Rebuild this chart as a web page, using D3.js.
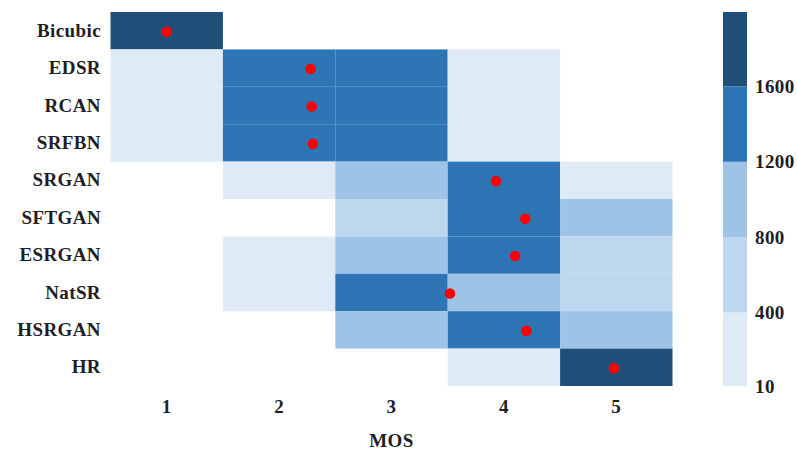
<!DOCTYPE html>
<html>
<head>
<meta charset="utf-8">
<script src="https://cdn.jsdelivr.net/npm/d3@7"></script>
<style>
  html, body { margin: 0; padding: 0; background: #fff; }
  svg text { font-family: "Liberation Serif", "Times New Roman", serif; font-weight: bold; fill: #1e1e24; letter-spacing: 0.4px; }
</style>
</head>
<body>
<svg id="chart" width="797" height="451"></svg>
<script>
// ---- data ----
const methods = ["Bicubic", "EDSR", "RCAN", "SRFBN", "SRGAN", "SFTGAN", "ESRGAN", "NatSR", "HSRGAN", "HR"];
const mosLevels = [1, 2, 3, 4, 5];
// vote counts per method for MOS 1..5
const countsBicubic = [1980, 0, 0, 0, 0];
const countsEDSR    = [330, 1560, 1250, 150, 0];
const countsRCAN    = [310, 1540, 1280, 170, 0];
const countsSRFBN   = [300, 1530, 1290, 180, 0];
const countsSRGAN   = [0, 220, 900, 1400, 280];
const countsSFTGAN  = [0, 0, 650, 1450, 850];
const countsESRGAN  = [0, 120, 820, 1420, 700];
const countsNatSR   = [0, 250, 1300, 1000, 500];
const countsHSRGAN  = [0, 0, 850, 1450, 900];
const countsHR      = [0, 0, 0, 250, 1900];
// mean opinion score per method (red dots)
const meanMOS = [1.0, 2.28, 2.29, 2.30, 3.93, 4.19, 4.10, 3.52, 4.20, 4.98];
// colour bins
const binEdges = [10, 400, 800, 1200, 1600];
const binColors = ["#deebf7", "#bdd7ee", "#9dc3e6", "#2e75b6", "#1f4e79"];
const legendTicks = [10, 400, 800, 1200, 1600];
const legendMax = 1995;

const countRows = [countsBicubic, countsEDSR, countsRCAN, countsSRFBN, countsSRGAN,
                   countsSFTGAN, countsESRGAN, countsNatSR, countsHSRGAN, countsHR];

// ---- layout ----
const svg = d3.select("#chart");
const gx0 = 110.5, gx1 = 672.5, gy0 = 12, gy1 = 386;
const fs = 19;

const x = d3.scaleBand().domain(mosLevels).range([gx0, gx1]).padding(0);
const y = d3.scaleBand().domain(methods).range([gy0, gy1]).padding(0);
const xMos = d3.scaleLinear().domain([0.5, 5.5]).range([gx0, gx1]);
const color = d3.scaleThreshold().domain(binEdges).range(["none"].concat(binColors));

const cells = [];
methods.forEach((m, i) => mosLevels.forEach((s, j) => cells.push({m, s, v: countRows[i][j]})));

svg.append("g").selectAll("rect").data(cells.filter(d => d.v >= binEdges[0])).join("rect")
  .attr("x", d => x(d.s)).attr("y", d => y(d.m))
  .attr("width", x.bandwidth()).attr("height", y.bandwidth())
  .attr("fill", d => color(d.v));

svg.append("g").selectAll("circle").data(methods).join("circle")
  .attr("cx", (d, i) => xMos(meanMOS[i]))
  .attr("cy", d => y(d) + y.bandwidth() / 2 + 1)
  .attr("r", 5.3)
  .attr("fill", "#ff0000");

// axes
const yAxis = svg.append("g").attr("transform", `translate(${gx0},0)`)
  .call(d3.axisLeft(y).tickSize(0).tickPadding(9.5));
yAxis.select(".domain").remove();
yAxis.selectAll("text").attr("font-size", fs).attr("font-family", null).style("fill", "#1e1e24");

const xAxis = svg.append("g").attr("transform", `translate(0,${gy1})`)
  .call(d3.axisBottom(x).tickSize(0).tickPadding(14));
xAxis.select(".domain").remove();
xAxis.selectAll("text").attr("font-size", fs).attr("font-family", null).style("fill", "#1e1e24");

svg.append("text").attr("x", (gx0 + gx1) / 2).attr("y", 447)
  .attr("text-anchor", "middle").attr("font-size", fs).text("MOS");

// legend
const lx = 723, lw = 24;
const ly = d3.scaleLinear().domain([binEdges[0], legendMax]).range([gy1, gy0]);
const bins = binEdges.map((e, i) => ({lo: e, hi: i < binEdges.length - 1 ? binEdges[i + 1] : legendMax, c: binColors[i]}));
svg.append("g").selectAll("rect").data(bins).join("rect")
  .attr("x", lx).attr("width", lw)
  .attr("y", d => ly(d.hi)).attr("height", d => ly(d.lo) - ly(d.hi))
  .attr("fill", d => d.c);

const lAxis = svg.append("g").attr("transform", `translate(${lx + lw},0)`)
  .call(d3.axisRight(ly).tickValues(legendTicks).tickSize(0).tickPadding(8).tickFormat(d3.format("d")));
lAxis.select(".domain").remove();
lAxis.selectAll("text").attr("font-size", fs).attr("font-family", null).style("fill", "#1e1e24");
</script>
</body>
</html>
